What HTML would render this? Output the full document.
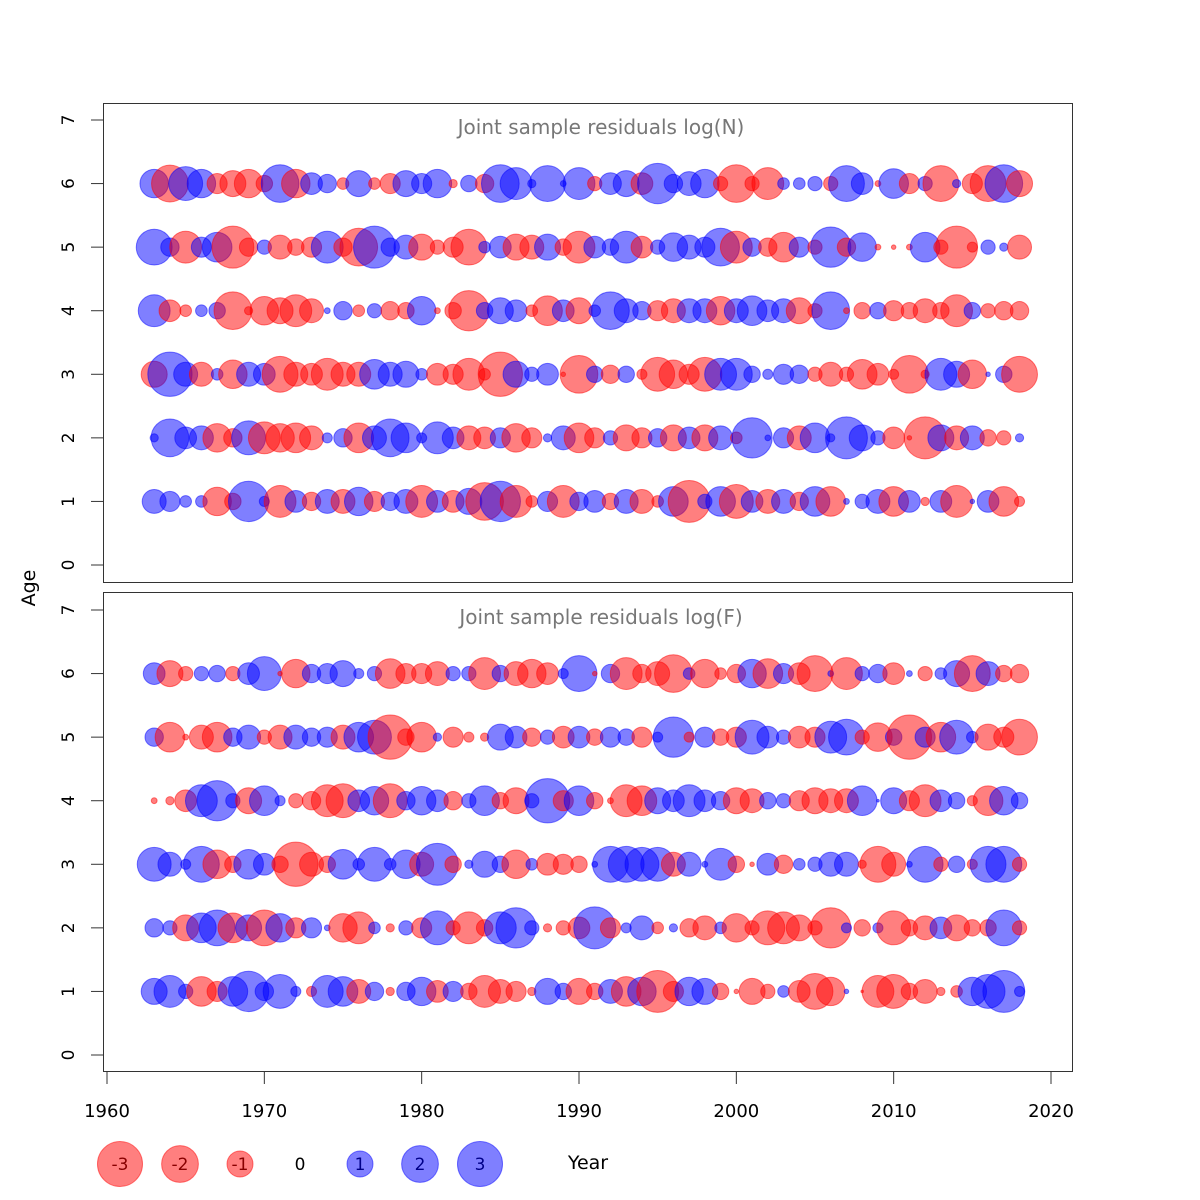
<!DOCTYPE html>
<html><head><meta charset="utf-8"><style>
html,body{margin:0;padding:0;background:#fff;}
svg{display:block;font-family:"DejaVu Sans","Liberation Sans",sans-serif;}
</style></head><body>
<svg id="chart" width="1200" height="1200" viewBox="0 0 1200 1200" xmlns="http://www.w3.org/2000/svg">
<rect x="0" y="0" width="1200" height="1200" fill="#fff"/>
<g id="panels"></g>
<g id="legend"></g>
</svg>
<script>
const years = [];
for (let y = 1963; y <= 2018; y++) years.push(y);
const ages = [1,2,3,4,5,6];
const xTicks = [1960,1970,1980,1990,2000,2010,2020];
const yTicks = [0,1,2,3,4,5,6,7];
const legendValues = [-3,-2,-1,0,1,2,3];

// Top panel: log(N) residuals
const nAge6 = [1.2,-2,1.7,1.2,-0.6,-1,-1.2,-0.4,2.1,-1.2,0.7,0.5,-0.2,1,-0.2,-0.6,1,0.6,1.2,-0.1,0.4,-0.5,2.1,1.5,0.1,1.9,0.05,1.5,-0.3,0.7,1,-0.7,2.4,0.5,0.85,1.2,-0.3,-2.1,-0.3,-1.5,0.2,0.2,0.3,-0.3,1.9,0.7,-0.05,1.3,-0.6,0.3,-1.9,0.1,-0.6,-1.9,2.1,-1];
const nAge5 = [1.9,0.5,-1.5,0.6,1.3,-2.6,-0.5,0.3,-0.85,-0.4,-0.6,1.5,-0.5,-2.1,2.6,0.5,0.85,-1,-0.3,-0.6,-1.9,0.2,0.7,-1,-0.85,1,-0.4,-1.5,0.7,0.4,1.5,-0.7,0.3,1.2,0.85,0.6,2.1,-1.5,0.5,-0.5,-1.3,0.6,-0.3,2.4,-0.5,1.2,-0.05,-0.03,-0.05,1.3,-0.3,-2.6,-0.15,0.3,0.1,-0.85];
const nAge4 = [1.5,-0.7,-0.2,0.2,0.4,-2.1,-0.1,-1.2,-1,-1.5,-0.85,0.05,0.5,-0.2,0.3,-0.5,-0.4,1.2,-0.05,-0.4,-2.4,0.4,1,0.7,-0.2,-1.3,0.7,-1,0.2,2.1,0.85,0.5,-0.6,-0.85,0.85,0.85,-1.2,0.85,1.3,0.7,0.85,-1,-0.3,2.1,-0.05,-0.4,0.4,-0.6,-0.4,-0.85,-0.4,-1.5,0.4,-0.3,-0.5,-0.5];
const nAge3 = [-1,2.9,0.85,-0.85,0.2,-1.2,0.85,0.7,-1.9,-0.85,-0.7,-1.5,-0.85,-0.85,1.3,0.85,1,0.2,-0.7,-0.6,-1.5,-0.2,-2.9,1,0.3,0.7,-0.03,-2.1,0.4,-0.5,0.4,-0.15,-1.7,-1.2,-0.6,-1.7,1.5,1.5,0.4,0.15,0.6,0.5,-0.3,-0.85,-0.3,-1.3,-0.7,-0.15,-2.1,-0.1,1.5,1,-1.2,0.03,0.4,-1.9];
const nAge2 = [0.1,2.1,0.7,0.85,-1.2,-0.5,1.7,-1.5,-1.2,-1.3,-0.85,0.15,0.5,-1.3,0.85,2.1,1.3,0.15,1.5,0.7,-0.85,-0.7,0.6,-1.2,-0.6,0.1,0.85,-1.3,-0.6,0.3,-1,-0.6,0.5,-1,0.7,-1,0.85,-0.2,2.4,0.05,0.6,-0.85,1.3,0.1,2.6,1,0.3,-0.7,-0.03,-2.6,1,-0.85,0.85,-0.4,-0.3,0.1];
const nAge1 = [0.85,0.6,0.2,0.2,-1.2,-0.4,2.4,0.15,-1.5,0.7,-0.5,0.85,-0.85,1.2,-0.6,0.5,0.85,-1.5,0.7,-0.7,1,-2.1,2.4,-1.5,-0.2,0.6,-1.5,0.5,0.7,-0.4,0.85,-0.85,-0.2,1.3,-2.6,0.3,1.3,-1.7,0.7,-0.85,0.85,-0.5,1.3,-1.3,0.05,0.3,0.85,-1.3,0.7,-0.1,0.7,-1.5,0.03,0.7,-1.3,-0.15];

// Bottom panel: log(F) residuals
const fAge6 = [0.7,-1,-0.3,0.3,0.4,-0.3,0.7,1.7,-0.03,-1.2,0.5,0.6,1,0.15,0.3,-1.3,-0.6,-0.6,-0.85,0.3,0.3,-1.5,0.4,-0.85,-1.2,-0.7,0.15,1.9,-0.03,0.5,-1.5,-0.5,-0.85,-2.1,0.2,-1.2,-0.2,-0.5,1.2,-1.3,0.6,-0.7,-1.9,0.05,-1.5,0.3,0.5,-0.7,0.05,-0.3,0.2,1,-1.9,0.85,-0.4,-0.5];
const fAge5 = [0.5,-1.3,-0.05,-0.85,-1.3,0.5,0.85,-0.3,-0.85,0.85,0.5,0.6,-0.85,1.3,1.7,-2.9,-0.4,-1.3,0.1,-0.6,-0.15,-0.1,1,0.7,-0.5,0.3,-0.7,0.7,-0.4,0.6,0.4,-0.6,0.15,2.4,-0.15,0.6,-0.4,-0.6,1.7,0.7,0.3,-0.7,-0.6,1.5,1.9,-0.3,-1.2,0.4,-2.9,0.6,-1.3,1.7,0.2,-1,-0.6,-1.9];
const fAge4 = [-0.05,-0.1,-0.7,1.5,2.4,0.3,-1,1.3,0.15,-0.3,-0.5,-1.5,-1.7,0.7,1.2,-1.7,0.5,1.2,0.7,-0.5,0.3,1.3,-0.4,-1,0.3,2.9,-0.6,1.3,-0.4,-0.05,-1.5,-1.3,1,0.7,1.5,0.7,0.5,-1,-0.85,0.4,0.3,-0.6,-1,-0.85,-0.85,1.3,0.01,1,-0.6,-1.5,0.7,0.4,-0.15,-1.3,1.2,0.4];
const fAge3 = [1.7,0.85,0.15,1.9,-1.2,-0.4,1.3,0.7,-0.4,-2.9,-0.85,-0.4,1.3,0.2,1.7,0.2,1.2,-0.85,2.6,-0.4,0.1,1,0.4,-1.2,0.2,-0.7,-0.6,-0.4,0.05,1.9,1.9,1.7,1.7,-0.85,0.85,0.05,1.5,-0.4,-0.03,0.7,-0.5,0.2,0.3,0.85,0.85,-0.1,-1.9,-0.85,0.05,1.9,-0.3,0.4,-0.15,1.9,1.9,-0.3];
const fAge2 = [0.5,0.3,-1,1.3,1.9,-1.3,1,-1.9,1.2,-0.6,0.6,0.05,-1.2,-1.5,0.2,-0.1,0.3,-0.6,1.7,-0.3,-1.5,-0.4,1.5,2.4,0.3,-0.1,-0.3,-0.7,2.6,-0.6,0.15,0.85,-0.2,0.1,-0.5,-0.85,0.2,-1.2,-0.3,-1.7,-1.5,-1,-0.3,-2.4,0.15,-0.4,0.15,-1.7,-0.4,-0.85,0.7,-1,-0.4,-0.4,1.9,-0.3];
const fAge1 = [1,1.5,0.3,-1.3,-0.6,1.3,2.4,0.5,1.7,0.15,-0.15,1.5,1.3,-0.85,0.5,-0.1,0.5,1.2,-0.7,0.6,-0.4,-1.5,-0.85,-0.6,-0.1,1,0.4,-1,-0.4,0.85,-1.3,1.2,-2.6,-0.6,1.2,1,-0.4,-0.03,-1,-0.3,0.2,-0.7,-1.9,-1.2,0.03,-0.01,-1.5,-1.7,-0.4,-0.85,-0.1,-0.2,1.2,1.7,2.6,0.15];

const nSeries = [nAge1,nAge2,nAge3,nAge4,nAge5,nAge6];
const fSeries = [fAge1,fAge2,fAge3,fAge4,fAge5,fAge6];

const NS = "http://www.w3.org/2000/svg";
function mk(tag, attrs, parent) {
  const e = document.createElementNS(NS, tag);
  for (const k in attrs) e.setAttribute(k, attrs[k]);
  parent.appendChild(e);
  return e;
}
function xScale(yr) { return 107 + (yr - 1960) * (1051 - 107) / 60; }
function rScale(v) { return 13 * Math.sqrt(Math.abs(v)); }
const RED = "rgba(255,0,0,0.5)", BLUE = "rgba(0,0,255,0.5)";

const panelsG = document.getElementById('panels');
const panelDefs = [
  {top: 103, bottom: 582, y0: 565, y7: 120, title: "Joint sample residuals log(N)", titleY: 134, series: nSeries, key: "n"},
  {top: 592, bottom: 1071, y0: 1055, y7: 610, title: "Joint sample residuals log(F)", titleY: 624, series: fSeries, key: "f"}
];

panelDefs.forEach(function(p) {
  const g = mk('g', {}, panelsG);
  
  
  const yScale = function(a) { return p.y0 + (p.y7 - p.y0) * a / 7; };
  const box = mk('rect', {x: 103.5, y: p.top + 0.5, width: 969, height: p.bottom - p.top, fill: 'none', stroke: '#333', 'stroke-width': 1}, g);
  
  
  yTicks.forEach(function(t) {
    const yy = yScale(t);
    const tk = mk('line', {x1: 91, x2: 103, y1: yy, y2: yy, stroke: '#333', 'stroke-width': 1}, g);
    
    
    const lb = mk('text', {x: 0, y: 0, 'font-size': 17, 'text-anchor': 'middle', fill: '#000', transform: 'translate(74,' + yy + ') rotate(-90)'}, g);
    lb.textContent = t;
    
    
  });
  const tt = mk('text', {x: 601, y: p.titleY, 'font-size': 20, 'text-anchor': 'middle', fill: '#777'}, g);
  tt.textContent = p.title;
  
  
  p.series.forEach(function(vals, ai) {
    const age = ages[ai];
    vals.forEach(function(v, yi) {
      const c = mk('circle', {cx: xScale(years[yi]), cy: yScale(age), r: rScale(v), fill: v < 0 ? RED : BLUE, stroke: v < 0 ? RED : BLUE, 'stroke-width': 1}, g);
      
      
    });
  });
});

const xg = mk('g', {}, panelsG);


xTicks.forEach(function(t) {
  const xx = xScale(t);
  const tk = mk('line', {x1: xx, x2: xx, y1: 1072, y2: 1084, stroke: '#333', 'stroke-width': 1}, xg);
  
  
  const lb = mk('text', {x: xx, y: 1117, 'font-size': 18, 'text-anchor': 'middle', fill: '#000'}, xg);
  lb.textContent = t;
  
  
});
const ageLbl = mk('text', {x: 0, y: 0, 'font-size': 19, 'text-anchor': 'middle', fill: '#000', transform: 'translate(35,588) rotate(-90)'}, panelsG);
ageLbl.textContent = 'Age';



const lg = document.getElementById('legend');
legendValues.forEach(function(v, i) {
  const cx = 120 + i * 60;
  if (v !== 0) {
    const c = mk('circle', {cx: cx, cy: 1164, r: rScale(v), fill: v < 0 ? RED : BLUE, stroke: v < 0 ? RED : BLUE}, lg);
    
    
  }
  const t = mk('text', {x: cx, y: 1170, 'font-size': 17, 'text-anchor': 'middle', fill: v < 0 ? '#800' : (v > 0 ? '#008' : '#000')}, lg);
  t.textContent = v;
  
  
});
const yr = mk('text', {x: 588, y: 1169, 'font-size': 19, 'text-anchor': 'middle', fill: '#000'}, lg);
yr.textContent = 'Year';


</script>
</body></html>
